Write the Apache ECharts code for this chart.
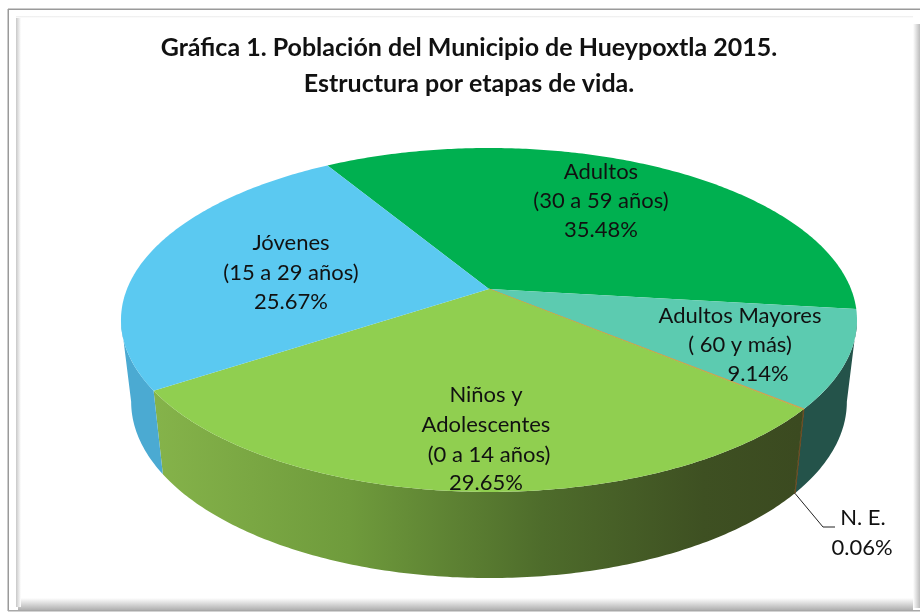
<!DOCTYPE html>
<html>
<head>
<meta charset="utf-8">
<style>
  html, body { margin: 0; padding: 0; background: #fff; }
  #chart { width: 920px; height: 613px; }
</style>
<script src="https://cdn.jsdelivr.net/npm/echarts@6/dist/echarts.min.js"></script>
</head>
<body>
<div id="chart"></div>
<script>
  // data, clockwise from the Adultos / Jovenes edge
  const categories = ['Adultos', 'Adultos Mayores', 'N. E.', 'Niños y Adolescentes', 'Jóvenes'];
  const values = [35.48, 9.14, 0.06, 29.65, 25.67];
  const labelLines = [
    ['Adultos', '(30 a 59 años)', '35.48%'],
    ['Adultos Mayores', '( 60 y más)', '9.14%'],
    ['N. E.', '0.06%'],
    ['Niños y', 'Adolescentes', '(0 a 14 años)', '29.65%'],
    ['Jóvenes', '(15 a 29 años)', '25.67%']
  ];
  const titleText = 'Gráfica 1. Población del Municipio de Hueypoxtla 2015.\nEstructura por etapas de vida.';

  const topColors = ['#00B050', '#5CCBB0', '#D0A050', '#90CF50', '#5BC9F1'];
  const wallColors = ['#00733A', '#24534A', '#6B4A20', null, '#4BAAD2'];
  const labelSpots = [
    [[601, 172], [601, 201], [601, 230]],
    [[740, 316], [740, 345], [758, 374]],
    [[863, 518], [862, 548]],
    [[486, 395], [486, 425], [489, 455], [486, 483]],
    [[291, 243], [291, 273], [291, 302]]
  ];

  // perspective of the two discs, in pixels
  const startAngle = -31;
  const tilt = 0.18;
  const topDisc = { x: 489, y: 289, a: 362, b: 166.4 };
  const bottomDisc = { x: 489, y: 370, a: 352, b: 170.6 };
  // where the side of the disc turns out of sight
  const wallFrom = 100.4;
  const wallTo = 259.6;
  const fontName = 'Lato, "Open Sans", sans-serif';

  const total = values.reduce((s, v) => s + v, 0);

  function sliceRange(i) {
    let before = 0;
    for (let k = 0; k < i; k++) before += values[k];
    return [startAngle + before / total * 360, startAngle + (before + values[i]) / total * 360];
  }

  function project(disc, deg) {
    const r = deg * Math.PI / 180;
    const u = Math.sin(r), v = Math.cos(r);
    const d = 1 + tilt * v;
    return [disc.x + disc.a * u / d, disc.y - disc.b * v / d];
  }

  function arcPoints(disc, from, to) {
    const n = Math.max(2, Math.ceil(Math.abs(to - from) * 1.5));
    const pts = [];
    for (let j = 0; j <= n; j++) pts.push(project(disc, from + (to - from) * j / n));
    return pts;
  }

  function renderTop(params, api) {
    const i = api.value(0);
    const range = sliceRange(i);
    const pts = [[topDisc.x, topDisc.y]].concat(arcPoints(topDisc, range[0], range[1]));
    const thin = values[i] < 1;
    return {
      type: 'polygon',
      shape: { points: pts },
      style: { fill: topColors[i], stroke: thin ? topColors[i] : null, lineWidth: thin ? 1 : 0 }
    };
  }

  function renderWall(params, api) {
    const i = api.value(0);
    const range = sliceRange(i);
    const from = Math.max(range[0], wallFrom);
    const to = Math.min(range[1], wallTo);
    if (to <= from) return null;
    const pts = arcPoints(topDisc, from, to).concat(arcPoints(bottomDisc, to, from));
    const fill = wallColors[i] || new echarts.graphic.LinearGradient(155, 0, 800, 0, [
      { offset: 0, color: '#85B34A' },
      { offset: 0.3, color: '#6F9B3C' },
      { offset: 0.6, color: '#4E6C2B' },
      { offset: 0.85, color: '#3E5022' },
      { offset: 1, color: '#3B4A20' }
    ], true);
    const thin = values[i] < 1;
    return {
      type: 'polygon',
      shape: { points: pts },
      style: { fill: fill, stroke: thin ? wallColors[i] : null, lineWidth: thin ? 1 : 0 }
    };
  }

  function renderLabels(params, api) {
    const i = api.value(0);
    const children = labelLines[i].map((line, k) => ({
      type: 'text',
      x: labelSpots[i][k][0],
      y: labelSpots[i][k][1],
      style: {
        text: line,
        fill: '#111',
        font: '22px ' + fontName,
        textAlign: 'center',
        textVerticalAlign: 'middle'
      }
    }));
    // leader line of the N. E. slice, from its wall foot
    if (values[i] < 1) {
      const range = sliceRange(i);
      const foot = project(bottomDisc, (range[0] + range[1]) / 2);
      children.push({
        type: 'polyline',
        shape: { points: [foot, [823, 527], [835, 527]] },
        style: { stroke: '#222', lineWidth: 1, fill: null }
      });
    }
    return { type: 'group', children: children };
  }

  const rows = values.map((v, i) => [i, v, categories[i]]);

  // soft bevel of the picture frame, grey end first
  function frameBar(x, y, w, h, gx, gy, gx2, gy2, color) {
    return {
      type: 'rect',
      shape: { x: x, y: y, width: w, height: h },
      style: {
        fill: new echarts.graphic.LinearGradient(gx, gy, gx2, gy2, [
          { offset: 0, color: color },
          { offset: 1, color: '#ffffff' }
        ])
      },
      silent: true
    };
  }

  const chart = echarts.init(document.getElementById('chart'), null, { renderer: 'canvas' });
  chart.setOption({
    animation: false,
    backgroundColor: '#fff',
    title: {
      text: titleText,
      left: 464,
      top: 25,
      textAlign: 'center',
      textStyle: { fontFamily: fontName, fontSize: 25, fontWeight: 'bold', color: '#111', lineHeight: 36 }
    },
    graphic: [
      frameBar(18, 598, 895, 12, 0, 1, 0, 0, '#b0b0b0'),
      frameBar(16, 17, 5, 590, 0, 0, 1, 0, '#c8c8c8'),
      frameBar(913, 24, 7, 584, 1, 0, 0, 0, '#bcbcbc'),
      frameBar(16, 16, 897, 2, 0, 0, 0, 1, '#ececec'),
      { type: 'rect', shape: { x: 8, y: 8.5, width: 912, height: 1.5 }, style: { fill: '#9a9a9a' }, silent: true },
      { type: 'rect', shape: { x: 7.5, y: 9, width: 1.5, height: 602 }, style: { fill: '#9a9a9a' }, silent: true },
      { type: 'rect', shape: { x: 8, y: 610, width: 912, height: 1.5 }, style: { fill: '#a8a8a8' }, silent: true }
    ],
    series: [
      { type: 'custom', coordinateSystem: 'none', renderItem: renderWall, data: rows, z: 2, silent: true },
      { type: 'custom', coordinateSystem: 'none', renderItem: renderTop, data: rows, z: 3, silent: true },
      { type: 'custom', coordinateSystem: 'none', renderItem: renderLabels, data: rows, z: 4, silent: true }
    ]
  });
</script>
</body>
</html>
